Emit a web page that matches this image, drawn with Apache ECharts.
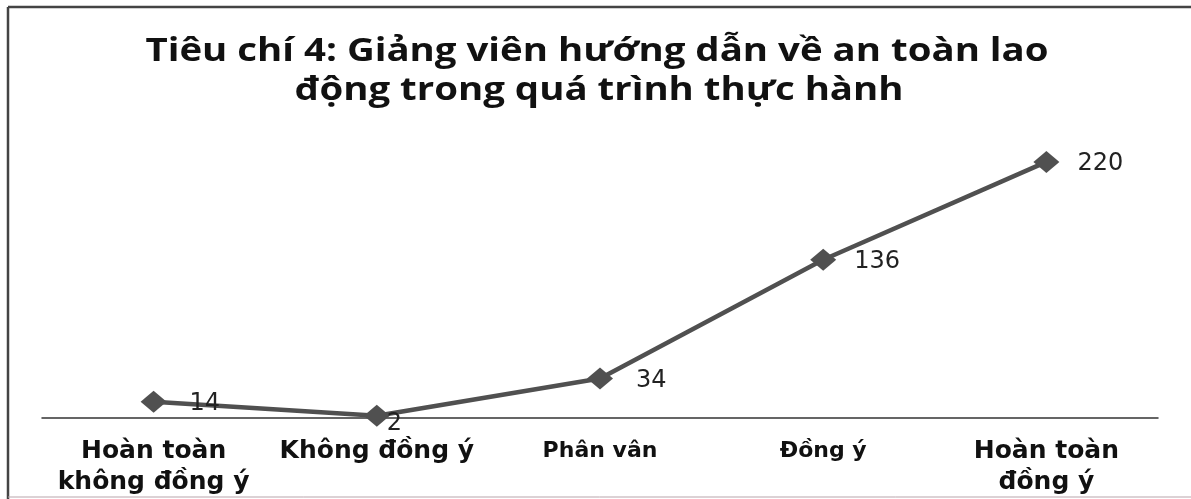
<!DOCTYPE html>
<html><head><meta charset="utf-8">
<script src="https://cdn.jsdelivr.net/npm/echarts@6/dist/echarts.min.js"></script>
<style>html,body{margin:0;padding:0;background:#fff}#c{width:1191px;height:499px}</style>
</head><body><div id="c"></div>
<script>
const titleLines = ['Tiêu chí 4: Giảng viên hướng dẫn về an toàn lao', 'động trong quá trình thực hành'];
const categories = ['Hoàn toàn\nkhông đồng ý', 'Không đồng ý', 'Phân vân', 'Đồng ý', 'Hoàn toàn\nđồng ý'];
const values = [14, 2, 34, 136, 220];

const chart = echarts.init(document.getElementById('c'));
const bigCat = { fontFamily: 'DejaVu Sans', fontWeight: 'bold', fontSize: 25, color: '#111', lineHeight: 31 };
const smallCat = { fontFamily: 'DejaVu Sans', fontWeight: 'bold', fontSize: 22, color: '#111', lineHeight: 31 };
chart.setOption({
  animation: false,
  backgroundColor: '#fff',
  graphic: [
    { type: 'line', shape: { x1: 8, y1: 7, x2: 1191, y2: 7 }, style: { stroke: '#444', lineWidth: 2.5 } },
    { type: 'line', shape: { x1: 8, y1: 7, x2: 8, y2: 499 }, style: { stroke: '#444', lineWidth: 2.5 } },
    { type: 'line', shape: { x1: 8, y1: 497, x2: 1191, y2: 497 }, style: { stroke: '#b9a4ab', lineWidth: 1 } },
    {
      type: 'text', x: 597, y: 52, scaleX: 1.2,
      style: {
        text: titleLines[0], align: 'center', verticalAlign: 'middle',
        fontFamily: 'Open Sans', fontWeight: 'bold', fontSize: 32, fill: '#111'
      }
    },
    {
      type: 'text', x: 599, y: 91, scaleX: 1.2,
      style: {
        text: titleLines[1], align: 'center', verticalAlign: 'middle',
        fontFamily: 'Open Sans', fontWeight: 'bold', fontSize: 32, fill: '#111'
      }
    }
  ],
  grid: { left: 42, right: 33, top: 127, bottom: 81 },
  xAxis: {
    type: 'category', data: categories, boundaryGap: true,
    axisLine: { lineStyle: { color: '#333', width: 1.5 } },
    axisTick: { show: false },
    axisLabel: {
      margin: 18,
      interval: 0,
      formatter: (v, i) => {
        const style = (i === 2 || i === 3) ? 's' : 'b';
        return v.split('\n').map(l => '{' + style + '|' + l + '}').join('\n');
      },
      rich: { b: bigCat, s: smallCat }
    }
  },
  yAxis: {
    type: 'value', min: 0, max: 250, show: false,
    splitLine: { show: false }
  },
  series: [{
    type: 'line', data: values.map((v, i) => ({
      value: v,
      label: i === 1 ? { position: 'right', distance: -3, offset: [0, 8] } :
             i >= 3 ? { position: 'right', distance: 18, offset: [0, 2] } :
             { position: 'right', distance: 23, offset: [0, 2] }
    })),
    symbol: 'diamond', symbolSize: [26, 22],
    itemStyle: { color: '#505050' },
    lineStyle: { color: '#505050', width: 4.5 },
    label: {
      show: true, position: 'right', distance: 22,
      fontFamily: 'DejaVu Sans', fontSize: 24, color: '#222'
    },
    z: 3
  }]
});
</script></body></html>
